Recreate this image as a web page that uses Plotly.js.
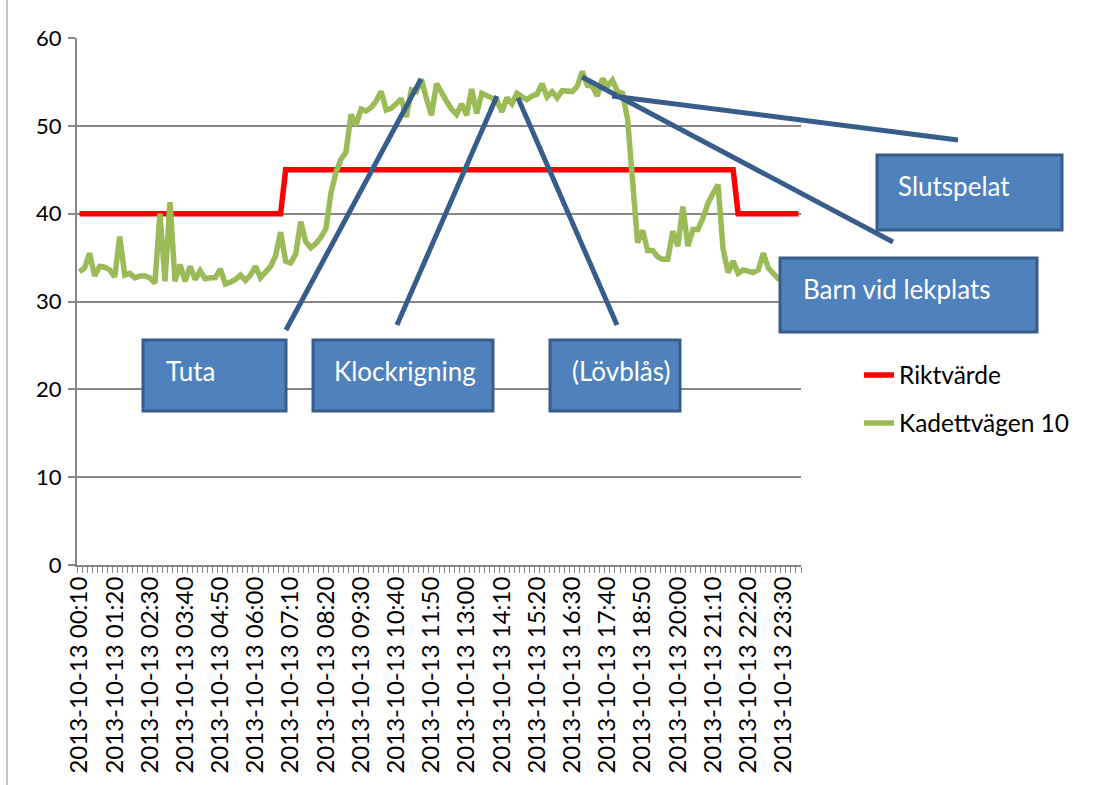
<!DOCTYPE html>
<html><head><meta charset="utf-8">
<script src="https://cdn.plot.ly/plotly-3.0.1.min.js"></script>
<style>html,body{margin:0;padding:0;background:#fff}#chart{width:1094px;height:785px}</style>
</head><body><div id="chart"></div>
<script>
// 10-minute categories 00:10 .. 24:00
const categories = [];
for (let k = 0; k < 144; k++) {
  const m = 10 + 10 * k;
  let hh = Math.floor(m / 60); const mm = m % 60;
  const day = hh >= 24 ? '14' : '13'; hh = hh % 24;
  categories.push('2013-10-' + day + ' ' + String(hh).padStart(2, '0') + ':' + String(mm).padStart(2, '0'));
}
const tickLabels = ["2013-10-13 00:10","2013-10-13 01:20","2013-10-13 02:30","2013-10-13 03:40","2013-10-13 04:50",
  "2013-10-13 06:00","2013-10-13 07:10","2013-10-13 08:20","2013-10-13 09:30","2013-10-13 10:40","2013-10-13 11:50",
  "2013-10-13 13:00","2013-10-13 14:10","2013-10-13 15:20","2013-10-13 16:30","2013-10-13 17:40","2013-10-13 18:50",
  "2013-10-13 20:00","2013-10-13 21:10","2013-10-13 22:20","2013-10-13 23:30"];
const yTicks = [0, 10, 20, 30, 40, 50, 60];

const riktvarde = [
 40,40,40,40,40,40,40,40,40,40, 40,40,40,40,40,40,40,40,40,40,
 40,40,40,40,40,40,40,40,40,40, 40,40,40,40,40,40,40,40,40,40,
 40,45,45,45,45,45,45,45,45,45, 45,45,45,45,45,45,45,45,45,45,
 45,45,45,45,45,45,45,45,45,45, 45,45,45,45,45,45,45,45,45,45,
 45,45,45,45,45,45,45,45,45,45, 45,45,45,45,45,45,45,45,45,45,
 45,45,45,45,45,45,45,45,45,45, 45,45,45,45,45,45,45,45,45,45,
 45,45,45,45,45,45,45,45,45,45, 45,40,40,40,40,40,40,40,40,40,
 40,40,40,40];
const kadettvagen = [
 33.4,33.8,35.5,32.9,34.0,33.9,33.6,32.8,37.4,33.0,
 33.2,32.7,32.9,32.9,32.7,32.1,40.0,32.3,41.3,32.3,
 34.2,32.3,34.0,32.5,33.5,32.6,32.7,32.7,33.7,32.0,
 32.2,32.5,33.0,32.4,33.0,34.0,32.7,33.3,34.0,35.2,
 37.9,34.6,34.4,35.4,39.1,36.8,36.1,36.6,37.3,38.3,
 42.3,44.7,46.2,47.0,51.3,50.1,51.9,51.7,52.1,52.8,
 53.9,51.8,52.0,52.5,53.1,51.0,54.1,53.9,55.3,53.1,
 51.2,54.8,53.7,52.8,51.9,51.3,52.5,51.2,54.2,51.4,
 53.7,53.4,53.1,52.9,51.6,53.2,52.5,53.7,53.3,53.0,
 53.4,53.6,54.8,53.3,53.9,53.2,54.0,54.0,53.9,54.5,
 56.2,54.6,54.5,53.4,55.4,54.5,55.2,53.9,53.7,50.8,
 43.5,36.7,38.1,35.8,35.8,35.1,34.8,34.8,38.0,36.3,
 40.8,36.3,38.2,38.2,39.5,41.2,42.3,43.3,36.0,33.3,
 34.6,33.2,33.6,33.4,33.3,33.6,35.5,33.8,33.2,32.6,
 32.3,32.8,32.5,32.9];
const seriesNames = ["Riktvärde", "Kadettvägen 10"];
const calloutTexts = ["Tuta", "Klockrigning", "(Lövblås)", "Slutspelat", "Barn vid lekplats"];

// layout geometry (pixels of the 1094x785 page)
const L = 77, R = 801, T = 38, B = 565;
const px = x => (x - L) / (R - L);
const py = y => (B - y) / (B - T);

const boxes = [ [143,340,286,411], [313,340,493,411], [550,340,680,411], [877,155,1062,230], [780,258,1037,332] ];
const textPos = [ [164,371], [332,371], [570,371], [896,186], [801,289] ];
const leaders = [ [286,330,421,79], [397,325,497,96], [617,325,518,98], [612,96,958,140], [582,77,893,242] ];

const shapes = [];
leaders.forEach(l => shapes.push({type:'line', xref:'paper', yref:'paper', x0:px(l[0]), y0:py(l[1]), x1:px(l[2]), y1:py(l[3]),
  line:{color:'#385D8A', width:5}, layer:'above'}));
boxes.forEach(b => shapes.push({type:'rect', xref:'paper', yref:'paper', x0:px(b[0]), y0:py(b[1]), x1:px(b[2]), y1:py(b[3]),
  fillcolor:'#4F81BD', line:{color:'#385D8A', width:3}, layer:'above'}));
shapes.push({type:'line', xref:'paper', yref:'paper', x0:px(7), x1:px(7), y0:py(-5), y1:py(790), line:{color:'#8c8c8c', width:1}});

const annotations = calloutTexts.map((t, i) => ({text:t, xref:'paper', yref:'paper', x:px(textPos[i][0]), y:py(textPos[i][1]),
  xanchor:'left', yanchor:'middle', showarrow:false, font:{family:'Lato, Open Sans, sans-serif', size:26, color:'#ffffff'}}));

const tickText = categories.map(c => tickLabels.includes(c) ? c : '');

const traces = [
  {x:categories, y:riktvarde, name:seriesNames[0], type:'scatter', mode:'lines', line:{color:'#FF0000', width:5.5}, legend:'legend', hoverinfo:'skip'},
  {x:categories, y:kadettvagen, name:seriesNames[1], type:'scatter', mode:'lines', line:{color:'#9BBB59', width:5.5}, legend:'legend2', hoverinfo:'skip'}
];

const legendFont = {family:'Lato, Open Sans, sans-serif', size:24.5, color:'#000'};
const layout = {
  width:1094, height:785,
  margin:{l:L, r:1094-R, t:T, b:785-B, pad:0},
  paper_bgcolor:'#ffffff', plot_bgcolor:'#ffffff',
  font:{family:'Lato, Open Sans, sans-serif', color:'#000'},
  showlegend:true,
  legend:{x:px(859), y:py(375), xanchor:'left', yanchor:'middle', font:legendFont, bgcolor:'rgba(0,0,0,0)'},
  legend2:{x:px(859), y:py(423), xanchor:'left', yanchor:'middle', font:legendFont, bgcolor:'rgba(0,0,0,0)'},
  xaxis:{type:'category', range:[-0.5, 143.5], tickmode:'array', tickvals:categories, ticktext:tickText,
    tickson:'boundaries', ticks:'outside', ticklen:6, tickcolor:'#868686', tickwidth:1,
    showgrid:false, showline:true, linecolor:'#868686', linewidth:2, tickangle:-90,
    tickfont:{family:'Lato, Open Sans, sans-serif', size:24, color:'#000'}, automargin:false, fixedrange:true, zeroline:false},
  yaxis:{range:[0,60], tickmode:'array', tickvals:yTicks, ticks:'outside', ticklen:7, tickcolor:'#868686', tickwidth:2,
    showgrid:true, gridcolor:'#868686', gridwidth:2, showline:true, linecolor:'#868686', linewidth:2, zeroline:false,
    tickfont:{family:'Lato, Open Sans, sans-serif', size:22, color:'#000'}, ticklabelstandoff:2, automargin:false, fixedrange:true},
  shapes:shapes, annotations:annotations
};
Plotly.newPlot('chart', traces, layout, {displayModeBar:false, staticPlot:true});
</script></body></html>
